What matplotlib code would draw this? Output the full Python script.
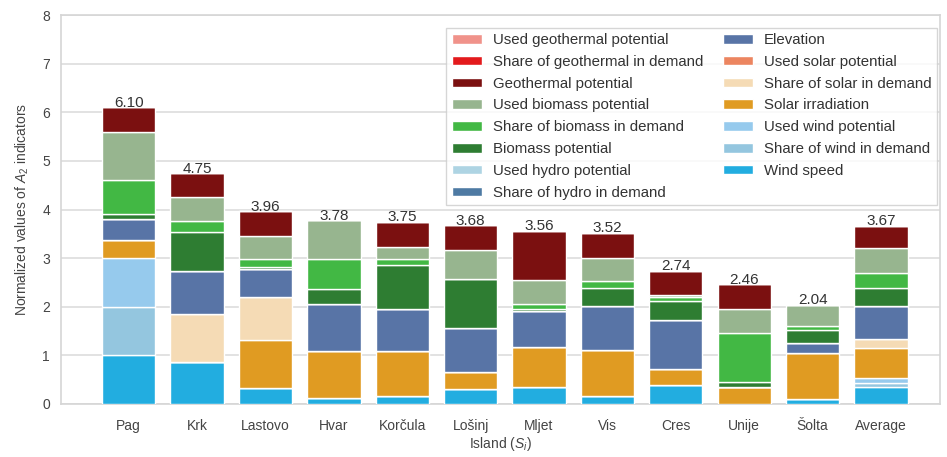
import numpy as np
import matplotlib
matplotlib.use("Agg")
from matplotlib import pyplot as plt

plt.rcParams['font.family'] = ['Liberation Sans', 'DejaVu Sans']
plt.rcParams['mathtext.fontset'] = 'custom'
plt.rcParams['mathtext.rm'] = 'Liberation Sans'
plt.rcParams['mathtext.it'] = 'Liberation Sans:italic'

islands = ["Pag", "Krk", "Lastovo", "Hvar", "Korčula", "Lošinj", "Mljet",
           "Vis", "Cres", "Unije", "Šolta", "Average"]

# normalized indicator values, bottom of the stack first
wind_speed = [1.00, 0.86, 0.32, 0.12, 0.16, 0.31, 0.35, 0.16, 0.40, 0.00, 0.10, 0.35]
share_wind = [1.00, 0, 0, 0, 0, 0, 0, 0, 0, 0, 0, 0.08]
used_wind = [1.00, 0, 0, 0, 0, 0, 0, 0, 0, 0, 0, 0.10]
solar_irr = [0.38, 0.00, 1.00, 0.97, 0.92, 0.35, 0.83, 0.96, 0.33, 0.35, 0.95, 0.63]
share_solar = [0, 1.00, 0.88, 0, 0, 0, 0, 0, 0, 0, 0, 0.18]
used_solar = [0] * 12
elevation = [0.42, 0.87, 0.57, 0.97, 0.87, 0.91, 0.74, 0.90, 1.00, 0.00, 0.21, 0.68]
share_hydro = [0] * 12
used_hydro = [0] * 12
biomass_pot = [0.10, 0.81, 0.05, 0.31, 0.90, 1.00, 0.03, 0.37, 0.38, 0.10, 0.26, 0.36]
share_biomass = [0.70, 0.22, 0.16, 0.62, 0.13, 0.00, 0.10, 0.14, 0.10, 1.00, 0.08, 0.31]
used_biomass = [1.00, 0.49, 0.48, 0.79, 0.25, 0.60, 0.50, 0.48, 0.04, 0.50, 0.44, 0.51]
geo_pot = [0.50, 0.50, 0.50, 0.00, 0.52, 0.51, 1.01, 0.51, 0.49, 0.51, 0.00, 0.47]
share_geo = [0] * 12
used_geo = [0] * 12

series = [
    ("Wind speed", wind_speed, "#22ade0"),
    ("Share of wind in demand", share_wind, "#94c6df"),
    ("Used wind potential", used_wind, "#96caed"),
    ("Solar irradiation", solar_irr, "#e09b22"),
    ("Share of solar in demand", share_solar, "#f5dbb5"),
    ("Used solar potential", used_solar, "#ec8560"),
    ("Elevation", elevation, "#5874a6"),
    ("Share of hydro in demand", share_hydro, "#4e7aa3"),
    ("Used hydro potential", used_hydro, "#aed4e3"),
    ("Biomass potential", biomass_pot, "#2e7d32"),
    ("Share of biomass in demand", share_biomass, "#42b844"),
    ("Used biomass potential", used_biomass, "#97b58f"),
    ("Geothermal potential", geo_pot, "#7b1010"),
    ("Share of geothermal in demand", share_geo, "#e31a1c"),
    ("Used geothermal potential", used_geo, "#f0928a"),
]

fig = plt.figure(figsize=(9.47, 4.57), dpi=100)
ax = fig.add_axes([0.0644, 0.116, 0.928, 0.851])

x = np.arange(len(islands))
bottom = np.zeros(len(islands))
handles = []
for name, vals, col in series:
    vals = np.array(vals, dtype=float)
    h = ax.bar(x, vals, 0.78, bottom=bottom, color=col, edgecolor="white",
               linewidth=1.0, label=name, zorder=3)
    handles.append(h)
    bottom += vals

for xi, tot in zip(x, bottom):
    ax.text(xi, tot - 0.05, "%.2f" % tot, ha="center", va="bottom",
            fontsize=11, color="#333333", zorder=4)

ax.set_xlim(-0.99, 11.86)
ax.set_ylim(0, 8)
ax.set_xticks(x)
ax.set_xticklabels(islands)
ax.set_yticks(range(9))
ax.tick_params(axis="both", length=0, labelsize=10, labelcolor="#444444")
ax.tick_params(axis="x", pad=11)
ax.tick_params(axis="y", pad=8)
ax.yaxis.grid(True, color="#dddddd", linewidth=1.2, zorder=0)
ax.set_axisbelow(True)
for s in ax.spines.values():
    s.set_color("#d5d5d5")
    s.set_linewidth(1.2)

ax.set_xlabel("Island ($S_i$)", fontsize=10, color="#444444", labelpad=1)
ax.set_ylabel("Normalized values of $A_2$ indicators", fontsize=10,
              color="#444444", labelpad=8)

leg = ax.legend(handles[::-1], [s[0] for s in series[::-1]], loc="upper right",
                bbox_to_anchor=(1.0, 0.975),
                ncol=2, fontsize=10.8, frameon=True, handlelength=2.0,
                handleheight=0.6, labelspacing=0.52, columnspacing=1.3,
                handletextpad=0.75, borderaxespad=0.2, borderpad=0.35,
                fancybox=False)
leg.set_zorder(5)
leg.get_frame().set_edgecolor("#cccccc")
leg.get_frame().set_linewidth(1.0)
for t in leg.get_texts():
    t.set_color("#333333")

fig.savefig("out.png", dpi=100)
